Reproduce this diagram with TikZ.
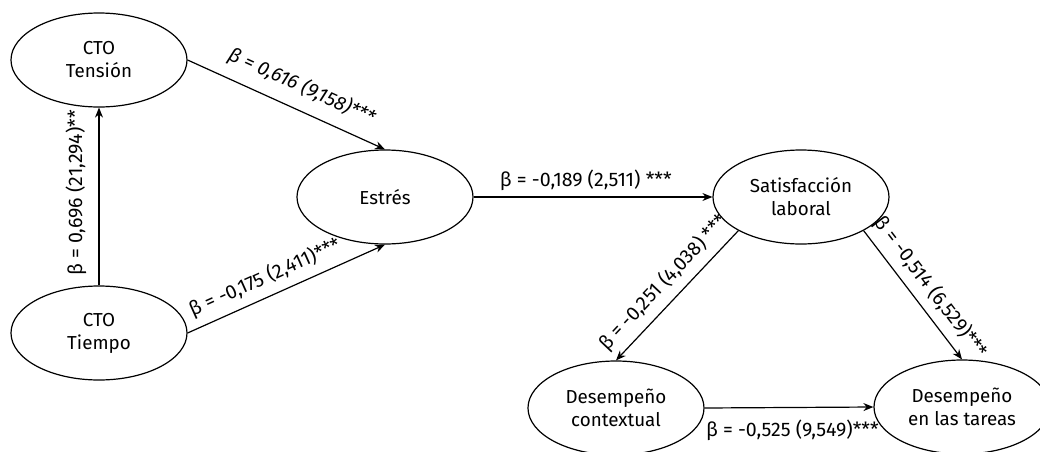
\documentclass[tikz,border=0pt]{standalone}
\usepackage{fontspec}
\setmainfont{Fira Sans}
\usepackage{tikz}
\usetikzlibrary{shapes.geometric,arrows.meta}
\tikzset{
  latent/.style={ellipse, draw, line width=0.6pt, minimum width=88pt, minimum height=47pt, align=center, font=\fontsize{9.4}{11.5}\selectfont},
  path/.style={-{Stealth[length=5pt,width=4pt]}, line width=0.6pt},
  coef/.style={font=\fontsize{9.8}{11}\selectfont, inner sep=2pt}
}

\begin{document}
\begin{tikzpicture}[x=0.5pt,y=-0.5pt]
    \useasboundingbox (0,0) rectangle (1040,451);
    \clip (0,0) rectangle (1040,451);

    \node[latent] at (99,60) (tens){CTO\\Tensión};
    \node[latent] at (99,333) (tiem){CTO\\Tiempo};
    \node[latent] at (385,197) (estr){Estrés};
    \node[latent] at (801,197) (sat){Satisfacción\\laboral};
    \node[latent] at (616,408) (dcon){Desempeño\\contextual};
    \node[latent] at (962,407) (dtar){Desempeño\\en las tareas};

    \draw [path] (tiem.north) -- node[coef, sloped, above, pos=0.52, yshift=4pt]{β = 0,696 (21,294)**} (tens.south);
    \draw [path] (tens.east) -- node[coef, sloped, above, pos=0.53, yshift=4pt]{\itshape β = 0,616 (9,158)***} (estr.north);
    \draw [path] (tiem.east) -- node[coef, sloped, above, pos=0.43, yshift=2pt]{β = -0,175 (2,411)***} (estr.south);
    \draw [path] (estr.east) -- node[coef, above, pos=0.47, yshift=1pt]{β = -0,189 (2,511) ***} (sat.west);
    \draw [path] (sat.south west) -- node[coef, sloped, above, yshift=2pt]{β = -0,251 (4,038) ***} (dcon.north);
    \draw [path] (sat.south east) -- node[coef, sloped, above, pos=0.53, yshift=2pt]{β = -0,514 (6,529)***} (dtar.north);
    \draw [path] (dcon.east) -- node[coef, below, pos=0.52, yshift=-4pt]{β = -0,525 (9,549)***} (dtar.west);
  \end{tikzpicture}
\end{document}
